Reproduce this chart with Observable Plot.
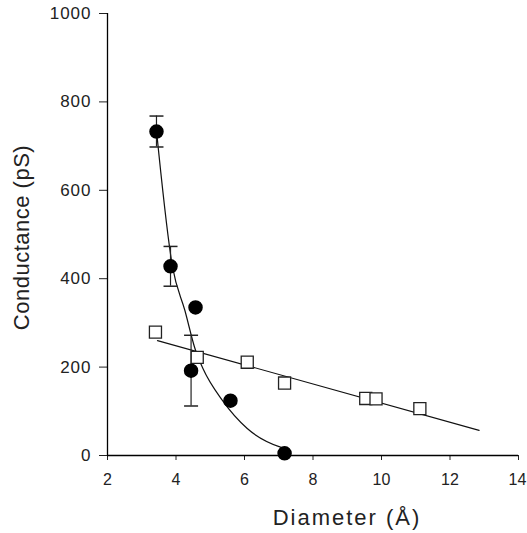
<!DOCTYPE html>
<html><head><meta charset="utf-8">
<script src="https://cdn.jsdelivr.net/npm/d3@7"></script>
<script src="https://cdn.jsdelivr.net/npm/@observablehq/plot@0.6"></script>
<style>body{margin:0;background:#fff;}</style>
</head><body><div id="chart"></div>
<script>
// Axis ticks
const xTicks = [2, 4, 6, 8, 10, 12, 14];
const yTicks = [0, 200, 400, 600, 800, 1000];

// Filled circles (diameter Å, conductance pS, error)
const filledX = [3.43, 3.84, 4.44, 4.57, 5.59, 7.17];
const filledY = [733, 428, 192, 335, 124, 5];
const filledErr = [35, 45, 80, 0, 0, 0];

// Open squares
const openX = [3.40, 4.62, 6.08, 7.17, 9.54, 9.84, 11.12];
const openY = [279, 222, 211, 164, 129, 128, 106];
const openErr = [0, 0, 11, 0, 0, 0, 0];

// Fitted curve through filled circles
const curveX = [3.43, 3.90, 4.26, 4.57, 4.79, 5.36, 6.08, 7.05, 7.13];
const curveY = [735, 426, 328, 238, 196, 124, 61, 19, 17];

// Linear fit through open squares
const lineX = [3.46, 12.85];
const lineY = [260, 57];

const filled = filledX.map((x, i) => ({x, y: filledY[i], e: filledErr[i]}));
const open = openX.map((x, i) => ({x, y: openY[i], e: openErr[i]}));
const curve = curveX.map((x, i) => ({x, y: curveY[i]}));
const fit = lineX.map((x, i) => ({x, y: lineY[i]}));
const filledE = filled.filter(d => d.e > 0);
const openE = open.filter(d => d.e > 0);

const cap = {draw(ctx) { ctx.moveTo(-7, 0); ctx.lineTo(7, 0); }};
const capS = {draw(ctx) { ctx.moveTo(-6, 0); ctx.lineTo(6, 0); }};

const chart = Plot.plot({
  width: 527,
  height: 533,
  marginLeft: 107,
  marginRight: 9,
  marginTop: 13,
  marginBottom: 78,
  style: {fontFamily: "'Liberation Sans', Arial, sans-serif", background: "#fff", color: "#111"},
  x: {domain: [2, 14], ticks: xTicks},
  y: {domain: [0, 1000], ticks: yTicks},
  marks: [
    Plot.axisX({ticks: xTicks, tickSize: 5, tickPadding: 13, fontSize: 16, label: null, tickFormat: d => String(d), color: "#222"}),
    Plot.axisY({ticks: yTicks, tickSize: 8, tickPadding: 8, fontSize: 17, label: null, tickFormat: d => String(d), color: "#222"}),
    Plot.ruleX([2], {y1: 0, y2: 1000, stroke: "#000", strokeWidth: 1.3}),
    Plot.ruleY([0], {x1: 2, x2: 14, stroke: "#000", strokeWidth: 1.3}),
    Plot.line(fit, {x: "x", y: "y", stroke: "#111", strokeWidth: 1.2}),
    Plot.line(curve, {x: "x", y: "y", stroke: "#111", strokeWidth: 1.2, curve: "monotone-x"}),
    // error bars
    Plot.ruleX(filledE, {x: "x", y1: d => d.y - d.e, y2: d => d.y + d.e, stroke: "#222", strokeWidth: 1.2}),
    Plot.dot(filledE, {x: "x", y: d => d.y - d.e, symbol: cap, stroke: "#222", strokeWidth: 1.5}),
    Plot.dot(filledE, {x: "x", y: d => d.y + d.e, symbol: cap, stroke: "#222", strokeWidth: 1.5}),
    Plot.ruleX(openE, {x: "x", y1: d => d.y - d.e, y2: d => d.y + d.e, stroke: "#333", strokeWidth: 1}),
    Plot.dot(openE, {x: "x", y: d => d.y - d.e, symbol: capS, stroke: "#333", strokeWidth: 1.2}),
    Plot.dot(openE, {x: "x", y: d => d.y + d.e, symbol: capS, stroke: "#333", strokeWidth: 1.2}),
    // markers
    Plot.dot(open, {x: "x", y: "y", symbol: "square", r: 6.8, fill: "#fff", stroke: "#222", strokeWidth: 1.3}),
    Plot.dot(filled, {x: "x", y: "y", r: 6.5, fill: "#000", stroke: "#000"}),
    // axis titles
    Plot.text(["Diameter (Å)"], {frameAnchor: "bottom", lineAnchor: "middle", textAnchor: "middle", dx: 34, dy: 62, fontSize: 22, fill: "#222"}),
    Plot.text(["Conductance (pS)"], {frameAnchor: "left", lineAnchor: "middle", textAnchor: "middle", rotate: -90, dx: -86, dy: 3, fontSize: 22, fill: "#222"})
  ]
});
document.getElementById("chart").appendChild(chart);
const svg = d3.select(chart);
svg.selectAll("text").each(function() {
  const t = this.textContent;
  if (t === "Diameter (Å)") this.setAttribute("letter-spacing", "2px");
  else if (t === "Conductance (pS)") this.setAttribute("letter-spacing", "0.5px");
  else if (t === "14") { this.style.fontSize = "16px"; this.setAttribute("dx", "-1"); }
  else if (yTicks.map(String).includes(t) && !xTicks.map(String).includes(t)) { this.setAttribute("letter-spacing", "1px"); this.style.fontSize = "17px"; }
});
</script>
</body></html>
